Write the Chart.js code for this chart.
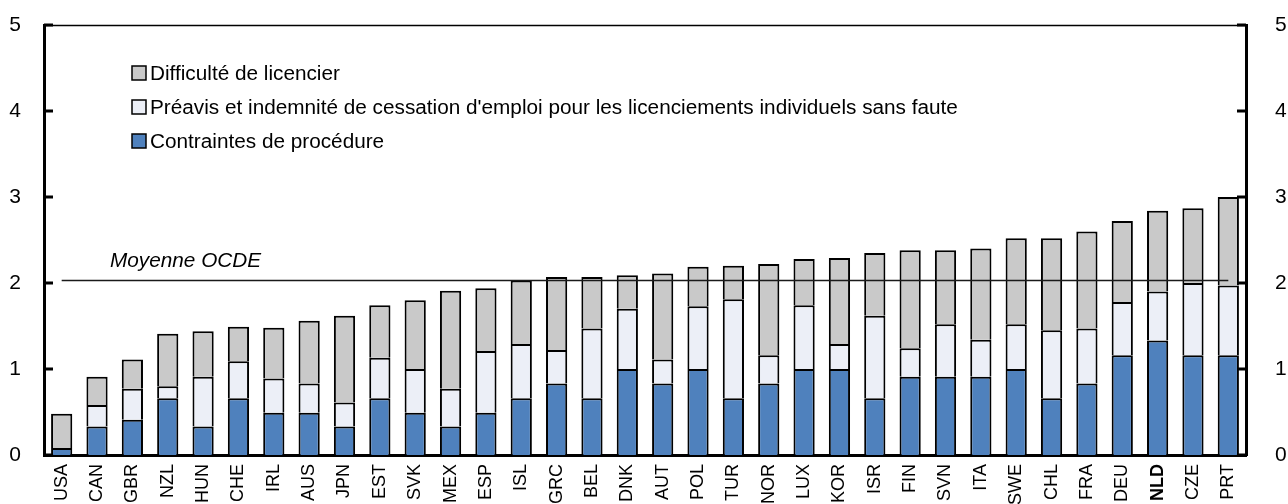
<!DOCTYPE html>
<html>
<head>
<meta charset="utf-8">
<script src="https://cdn.jsdelivr.net/npm/chart.js@4.4.1/dist/chart.umd.min.js"></script>
<style>
  html, body { margin: 0; padding: 0; background: #fff; }
  #wrap { width: 1288px; height: 504px; overflow: hidden; }
</style>
</head>
<body>
<div id="wrap"><canvas id="c" width="1288" height="504"></canvas></div>
<script>
// ---- Data ----
const categories = ["USA","CAN","GBR","NZL","HUN","CHE","IRL","AUS","JPN","EST","SVK","MEX","ESP","ISL","GRC","BEL","DNK","AUT","POL","TUR","NOR","LUX","KOR","ISR","FIN","SVN","ITA","SWE","CHL","FRA","DEU","NLD","CZE","PRT"];
const procedural = [0.08,0.33,0.41,0.66,0.33,0.66,0.49,0.49,0.33,0.66,0.49,0.33,0.49,0.66,0.83,0.66,1.00,0.83,1.00,0.66,0.83,1.00,1.00,0.66,0.91,0.91,0.91,1.00,0.66,0.83,1.16,1.33,1.16,1.16];
const noticeSeverance = [0.00,0.25,0.36,0.14,0.58,0.43,0.40,0.34,0.28,0.47,0.51,0.44,0.72,0.63,0.39,0.81,0.70,0.28,0.73,1.15,0.33,0.74,0.29,0.96,0.33,0.61,0.43,0.52,0.79,0.64,0.62,0.57,0.84,0.81];
const difficulty = [0.40,0.33,0.34,0.61,0.53,0.40,0.59,0.73,1.01,0.61,0.80,1.14,0.73,0.74,0.85,0.60,0.39,1.00,0.46,0.39,1.06,0.54,1.00,0.73,1.14,0.86,1.06,1.00,1.07,1.13,0.94,0.94,0.87,1.03];
const oecdAverage = 2.03;
const yTicks = [0,1,2,3,4,5];
const boldLabels = ["NLD"];
const seriesNames = {
  procedural: "Contraintes de procédure",
  notice: "Préavis et indemnité de cessation d'emploi pour les licenciements individuels sans faute",
  difficulty: "Difficulté de licencier"
};
const avgLabel = "Moyenne OCDE";

const FONT = "'Liberation Sans', Arial, sans-serif";

// Custom legend + reference label + inward ticks + top frame
const decor = {
  id: 'decor',
  afterDatasetsDraw(chart) {
    const ctx = chart.ctx;
    const area = chart.chartArea;
    const y = chart.scales.y;
    ctx.save();
    // top frame line
    ctx.strokeStyle = '#000';
    ctx.lineWidth = 1.5;
    ctx.beginPath();
    ctx.moveTo(area.left, area.top + 0.5);
    ctx.lineTo(area.right, area.top + 0.5);
    ctx.stroke();
    // inward ticks
    ctx.lineWidth = 3;
    yTicks.forEach(v => {
      const py = y.getPixelForValue(v);
      ctx.beginPath();
      ctx.moveTo(area.left, py); ctx.lineTo(area.left + 9, py);
      ctx.moveTo(area.right, py); ctx.lineTo(area.right - 9, py);
      ctx.stroke();
    });
    // legend
    const items = chart.data.datasets.filter(d => d.type !== 'line').slice().reverse();
    ctx.font = "20.75px " + FONT;
    ctx.textBaseline = 'middle';
    ctx.textAlign = 'left';
    items.forEach((d, i) => {
      const cy = 73 + i * 34;
      ctx.fillStyle = d.backgroundColor;
      ctx.fillRect(132, cy - 7, 14, 14);
      ctx.lineWidth = 1.5;
      ctx.strokeStyle = '#000';
      ctx.strokeRect(132, cy - 7, 14, 14);
      ctx.fillStyle = '#000';
      ctx.fillText(d.label, 150, cy + 1);
    });
    // average label
    ctx.font = "italic 20.75px " + FONT;
    ctx.textBaseline = 'alphabetic';
    ctx.fillText(avgLabel, 110, y.getPixelForValue(oecdAverage) - 13);
    ctx.restore();
  }
};

function fixY(w) {
  return function (s) { s.width = w; s.paddingTop = 0; s.paddingBottom = 0; };
}

const barStyle = { borderColor: '#000', borderWidth: 2, borderSkipped: 'start', stack: 's', order: 1 };

new Chart(document.getElementById('c'), {
  type: 'bar',
  data: {
    labels: categories,
    datasets: [
      Object.assign({ label: seriesNames.procedural, data: procedural, backgroundColor: '#4F81BD' }, barStyle),
      Object.assign({ label: seriesNames.notice, data: noticeSeverance, backgroundColor: '#ECEFF7' }, barStyle),
      Object.assign({ label: seriesNames.difficulty, data: difficulty, backgroundColor: '#C9C9C9' }, barStyle),
      { type: 'line', label: avgLabel, data: categories.map(() => oecdAverage), borderColor: '#1a1a1a', borderWidth: 1.5, pointRadius: 0, fill: false, stack: 'avg', order: 0 }
    ]
  },
  options: {
    responsive: false,
    animation: false,
    devicePixelRatio: 1,
    layout: { padding: { top: 25, left: 0, right: 0, bottom: 0 } },
    datasets: { bar: { categoryPercentage: 1, barPercentage: 0.6 } },
    plugins: { legend: { display: false }, tooltip: { enabled: false } },
    scales: {
      x: {
        stacked: true,
        grid: { display: false, drawTicks: false },
        border: { display: true, color: '#000', width: 3 },
        ticks: {
          minRotation: 90, maxRotation: 90, autoSkip: false, padding: 9,
          color: '#000',
          font: (c) => ({ family: FONT, size: 18, weight: (c.tick && boldLabels.includes(c.tick.label)) ? 'bold' : 'normal' })
        },
        afterFit(s) { s.height = 49; s.paddingLeft = 0; s.paddingRight = 0; }
      },
      y: {
        stacked: true, min: 0, max: 5, position: 'left',
        grid: { display: false, drawTicks: false },
        border: { display: true, color: '#000', width: 3 },
        ticks: { stepSize: 1, padding: 23, color: '#000', font: { family: FONT, size: 21 } },
        afterFit: fixY(44)
      },
      y2: {
        min: 0, max: 5, position: 'right',
        grid: { display: false, drawTicks: false },
        border: { display: true, color: '#000', width: 3 },
        ticks: { stepSize: 1, padding: 29, color: '#000', font: { family: FONT, size: 21 } },
        afterFit: fixY(42)
      }
    }
  },
  plugins: [decor]
});
</script>
</body>
</html>
